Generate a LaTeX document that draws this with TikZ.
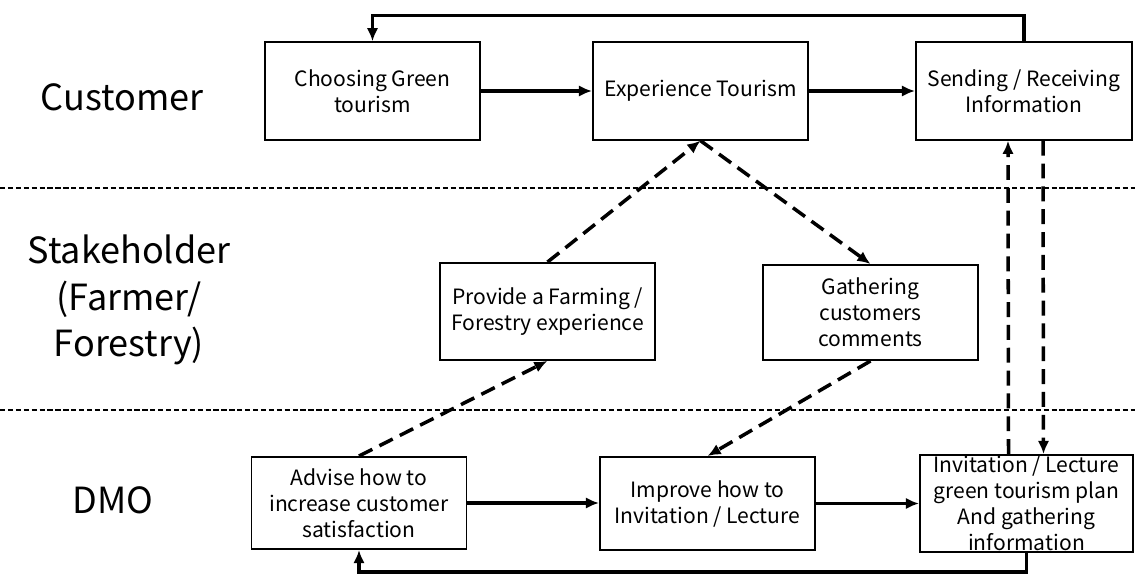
\documentclass[tikz,border=0pt]{standalone}
\usepackage{fontspec}
\setmainfont{Noto Sans CJK JP}
\usetikzlibrary{arrows.meta}

\begin{document}
\begin{tikzpicture}[x=0.02cm, y=-0.02cm,
    box/.style={draw, line width=1.1pt, minimum width=4.3cm, minimum height=1.95cm,
        inner ysep=-6pt, align=center, font=\fontsize{12}{14.8}\selectfont},
    lane/.style={align=center, font=\fontsize{20.5}{26.5}\selectfont},
    flow/.style={line width=2pt, -{Latex[length=7.5pt, width=6.5pt]}},
    link/.style={flow, dash pattern=on 8.5pt off 4.5pt},
    divider/.style={line width=0.6pt, dash pattern=on 3pt off 1.5pt}]
    \useasboundingbox (0,0) rectangle (1135,574);

    % Carriles
    \node[lane] (cust) at (122,97) {Customer};
    \node[lane] (stake) at (129,300) {Stakeholder\\(Farmer/\\Forestry)};
    \node[lane] (dmo) at (113,500) {DMO};
    \draw[divider] (0,188) -- (1135,188);
    \draw[divider] (0,410) -- (1135,410);

    % Cajas
    \node[box] (choose) at (372.5,91) {Choosing Green\\tourism};
    \node[box] (exper) at (700.5,91) {Experience Tourism};
    \node[box, minimum width=4.32cm] (send) at (1024,91) {Sending / Receiving\\Information};
    \node[box, minimum height=1.94cm] (provide) at (547.5,311.5) {Provide a Farming /\\Forestry experience};
    \node[box, minimum height=1.9cm] (gather) at (870.5,312.5) {Gathering\\customers\\comments};
    \node[box, minimum height=1.84cm] (advise) at (359,503) {Advise how to\\increase customer\\satisfaction};
    \node[box, minimum height=1.86cm] (improve) at (707.5,503.5) {Improve how to\\Invitation / Lecture};
    \node[box, minimum width=4.26cm, minimum height=1.94cm] (invite) at (1026.5,503.5)
        {Invitation / Lecture\\green tourism plan\\And gathering\\information};

    % Flechas continuas
    \draw[flow] (choose) -- (exper);
    \draw[flow] (exper) -- (send);
    \draw[flow] (advise.east) -- (advise.east -| improve.west);
    \draw[flow] (improve.east) -- (improve.east -| invite.west);
    \draw[flow] (send.north) -- ++(0,-26) -| (choose.north);
    \draw[flow] (invite.south) -- ++(0,19) -| (advise.south);

    % Flechas discontinuas
    \draw[link] (advise.north) -- (provide.south);
    \draw[link] (provide.north) -- (exper.south);
    \draw[link] (exper.south) -- (gather.north);
    \draw[link] (gather.south) -- (improve.north);
    \draw[link] ([xshift=-0.36cm]invite.north) -- ([xshift=-0.32cm]send.south);
    \draw[link] ([xshift=0.38cm]send.south) -- ([xshift=0.34cm]invite.north);
\end{tikzpicture}
\end{document}
